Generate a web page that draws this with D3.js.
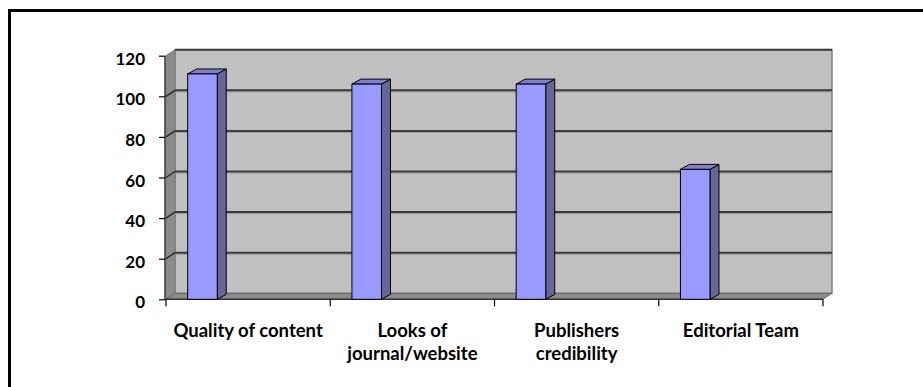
<!DOCTYPE html>
<html>
<head>
<meta charset="utf-8">
<script src="https://cdn.jsdelivr.net/npm/d3@7"></script>
<style>
  html, body { margin: 0; padding: 0; background: #fff; }
  svg { display: block; }
  text { font-family: Lato, "Open Sans", sans-serif; font-weight: bold; fill: #000; }
</style>
</head>
<body>
<svg id="chart" width="923" height="387"></svg>
<script>
// Survey: factors considered when choosing a journal
const categories = ["Quality of content", "Looks of journal/website", "Publishers credibility", "Editorial Team"];
const categoryLines = [["Quality of content"], ["Looks of", "journal/website"], ["Publishers", "credibility"], ["Editorial Team"]];
const values = [111, 106, 106, 64];
const yTicks = [0, 20, 40, 60, 80, 100, 120];

const svg = d3.select("#chart");

// front plane of the 3D plot box and its depth offset
const x = d3.scaleBand().domain(categories).range([166, 823]);
const y = d3.scaleLinear().domain([0, 120]).range([299.3, 55.7]);
const depth = { dx: 9, dy: -6 };
const barDepth = { dx: 9, dy: -5 };

const x0 = x.range()[0], x1 = x.range()[1];
const yBase = y(0), yTop = y(120);

const poly = pts => "M" + pts.map(p => p.join(",")).join("L") + "Z";

// outer frame
svg.append("rect")
  .attr("x", 9.5).attr("y", 10.5)
  .attr("width", 1000).attr("height", 1000)
  .attr("fill", "none").attr("stroke", "#000").attr("stroke-width", 3);

// back wall
svg.append("rect")
  .attr("x", x0 + depth.dx).attr("y", yTop + depth.dy)
  .attr("width", x1 - x0).attr("height", yBase - yTop)
  .attr("fill", "#c0c0c0").attr("stroke", "#808080").attr("stroke-width", 1.5);
svg.append("line")
  .attr("x1", x0 + depth.dx).attr("x2", x1 + depth.dx)
  .attr("y1", yTop + depth.dy).attr("y2", yTop + depth.dy)
  .attr("stroke", "#3a3a3a").attr("stroke-width", 2);

// left wall
svg.append("path")
  .attr("d", poly([[x0, yBase], [x0, yTop], [x0 + depth.dx, yTop + depth.dy], [x0 + depth.dx, yBase + depth.dy]]))
  .attr("fill", "#8c8c8c").attr("stroke", "#7a7a7a").attr("stroke-width", 1);

// gridlines on back and left walls
const grid = svg.append("g");
yTicks.filter(v => v > 0 && v < 120).forEach(v => {
  const yy = y(v);
  grid.append("line")
    .attr("x1", x0 + depth.dx).attr("x2", x1 + depth.dx)
    .attr("y1", yy + depth.dy + 1.5).attr("y2", yy + depth.dy + 1.5)
    .attr("stroke", "#9a9a9a").attr("stroke-width", 1);
  grid.append("line")
    .attr("x1", x0 + depth.dx).attr("x2", x1 + depth.dx)
    .attr("y1", yy + depth.dy).attr("y2", yy + depth.dy)
    .attr("stroke", "#3a3a3a").attr("stroke-width", 2);
  grid.append("line")
    .attr("x1", x0).attr("x2", x0 + depth.dx)
    .attr("y1", yy).attr("y2", yy + depth.dy)
    .attr("stroke", "#2a2a2a").attr("stroke-width", 1.5);
});

// floor
svg.append("path")
  .attr("d", poly([[x0, yBase], [x1, yBase], [x1 + depth.dx, yBase + depth.dy], [x0 + depth.dx, yBase + depth.dy]]))
  .attr("fill", "#8c8c8c").attr("stroke", "#6a6a6a").attr("stroke-width", 1);

// axis lines on the front plane
svg.append("line")
  .attr("x1", x0 - 1).attr("x2", x0 - 1).attr("y1", yTop).attr("y2", yBase)
  .attr("stroke", "#333").attr("stroke-width", 1.5);
svg.append("line")
  .attr("x1", x0 - 1).attr("x2", x1).attr("y1", yBase).attr("y2", yBase)
  .attr("stroke", "#333").attr("stroke-width", 1.5);

// bars: side, top, front
const bw = x.bandwidth();
const bars = svg.append("g").selectAll("g").data(categories).join("g");
bars.each(function (c, i) {
  const g = d3.select(this);
  const left = x(c) + bw * 0.132;
  const right = left + bw * 0.18;
  const top = y(values[i]);
  g.append("path")
    .attr("d", poly([[right, top], [right + barDepth.dx, top + barDepth.dy], [right + barDepth.dx, yBase + barDepth.dy], [right, yBase]]))
    .attr("fill", "#666699").attr("stroke", "#000").attr("stroke-width", 1).attr("stroke-linejoin", "round");
  g.append("path")
    .attr("d", poly([[left, top], [left + barDepth.dx, top + barDepth.dy], [right + barDepth.dx, top + barDepth.dy], [right, top]]))
    .attr("fill", "#7f7fcc").attr("stroke", "#000").attr("stroke-width", 1).attr("stroke-linejoin", "round");
  g.append("rect")
    .attr("x", left).attr("y", top)
    .attr("width", right - left).attr("height", yBase - top)
    .attr("fill", "#9999ff").attr("stroke", "#000").attr("stroke-width", 1);
});

// value axis
const yAxis = d3.axisLeft(y).tickValues(yTicks).tickSize(6).tickSizeOuter(0).tickPadding(14);
const ya = svg.append("g").attr("transform", `translate(${x0 - 1},0)`).call(yAxis);
ya.select(".domain").remove();
ya.selectAll(".tick line").attr("stroke", "#000").attr("stroke-width", 1.2);
ya.selectAll(".tick text")
  .attr("font-family", "Lato, 'Open Sans', sans-serif")
  .attr("font-weight", "bold")
  .attr("font-size", 17)
  .attr("dy", "0.5em")
  .attr("fill", "#000");

// category axis ticks at band edges
const edges = categories.map(c => x(c)).concat([x1]);
svg.append("g").selectAll("line").data(edges).join("line")
  .attr("x1", d => d).attr("x2", d => d)
  .attr("y1", yBase).attr("y2", yBase + 7)
  .attr("stroke", "#000").attr("stroke-width", 1.2);

// category labels, one text per line
const labelSize = 18.5;
categories.forEach((c, i) => {
  categoryLines[i].forEach((line, j) => {
    svg.append("text")
      .attr("text-anchor", "middle")
      .attr("font-size", labelSize)
      .attr("x", x(c) + bw / 2)
      .attr("y", 337 + j * 22.5)
      .text(line);
  });
});
</script>
</body>
</html>
